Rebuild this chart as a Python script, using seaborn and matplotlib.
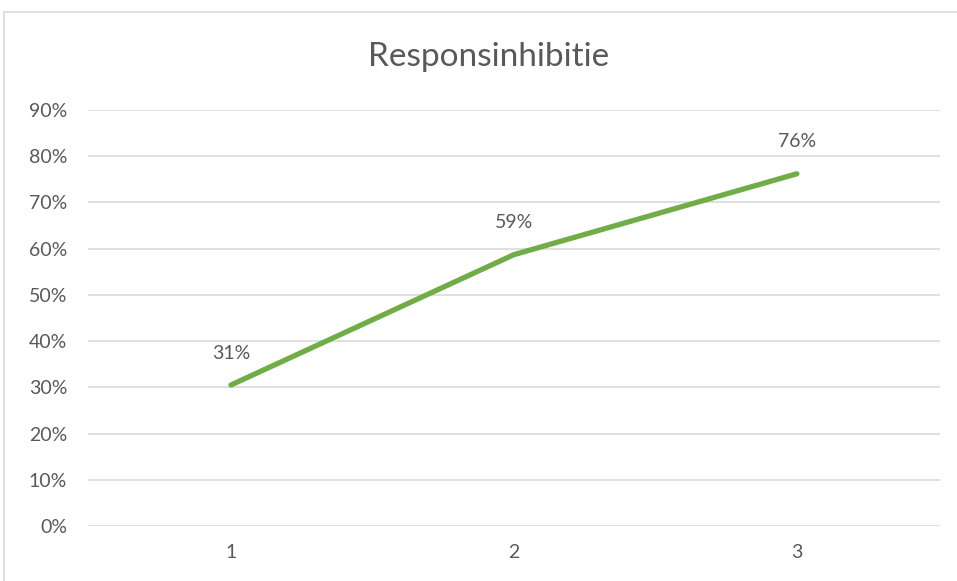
import matplotlib
matplotlib.use("Agg")
import matplotlib.pyplot as plt
import pandas as pd
import seaborn as sns
from matplotlib.patches import Rectangle

# chart data
categories = ["1", "2", "3"]
values = [0.305, 0.587, 0.762]
labels = ["31%", "59%", "76%"]
y_ticks = [0, 0.1, 0.2, 0.3, 0.4, 0.5, 0.6, 0.7, 0.8, 0.9]

df = pd.DataFrame({"meting": categories, "score": values})

sns.set_style("white")
plt.rcParams["font.family"] = ["Lato", "DejaVu Sans"]
text_color = "#595959"

fig = plt.figure(figsize=(9.57, 5.81), dpi=100)
ax = fig.add_axes([0.092, 0.0947, 0.890, 0.716])

sns.lineplot(data=df, x="meting", y="score", color="#70AD47", linewidth=3.8,
             solid_capstyle="round", ax=ax)

# data labels above each point
for i, (v, lab) in enumerate(zip(values, labels)):
    ax.annotate(lab, (i, v), xytext=(0, 23), textcoords="offset points",
                ha="center", va="center", fontsize=14, color=text_color)

ax.set_xlim(-0.505, 2.505)
ax.set_ylim(0, 0.9)
ax.set_yticks(y_ticks)
ax.set_yticklabels([f"{int(round(t * 100))}%" for t in y_ticks])
ax.yaxis.grid(True, color="#D9D9D9", linewidth=1.2)
ax.xaxis.grid(False)
ax.set_axisbelow(True)
ax.tick_params(axis="both", length=0, labelsize=14, labelcolor=text_color)
ax.tick_params(axis="y", pad=15)
ax.tick_params(axis="x", pad=13)
ax.set_xlabel("")
ax.set_ylabel("")
for s in ax.spines.values():
    s.set_visible(False)

fig.text(0.51, 0.902, "Responsinhibitie", ha="center", va="center",
         fontsize=24, color=text_color)

# chart border as in the original
fig.patches.append(Rectangle((0.004, -0.01), 1.2, 0.99, transform=fig.transFigure,
                             fill=False, edgecolor="#D9D9D9", linewidth=1.2))

fig.savefig("out.png", dpi=100)
